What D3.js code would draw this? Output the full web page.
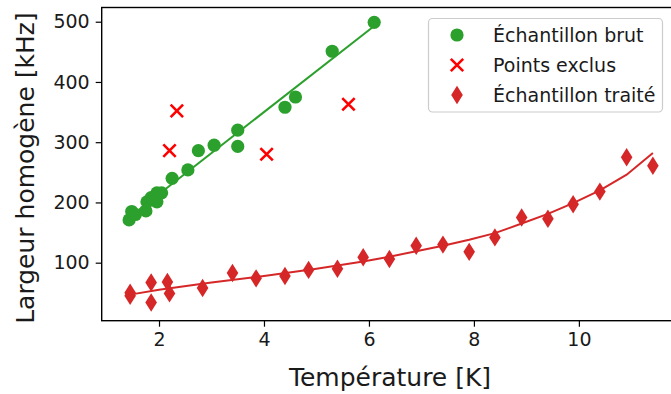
<!DOCTYPE html>
<html>
<head>
<meta charset="utf-8">
<script src="https://cdn.jsdelivr.net/npm/d3@7"></script>
<style>
  html, body { margin: 0; padding: 0; background: #fff; }
  svg { display: block; font-family: "DejaVu Sans", sans-serif; }
</style>
</head>
<body>
<svg id="chart" width="671" height="394"></svg>
<script>
// ---- data ----
const rawT = [1.43, 1.48, 1.55, 1.75, 1.77, 1.85, 1.96, 1.96, 2.05, 2.25, 2.55, 2.75, 3.05, 3.50, 3.50, 4.40, 4.60, 5.30, 6.10];
const rawW = [171, 185, 180, 186, 201, 208, 201, 216, 216, 240, 254, 286, 295, 320, 293, 358, 375, 451, 499];

const exclT = [2.20, 2.34, 4.05, 5.61];
const exclW = [286, 352, 280, 363];

const treatT = [1.45, 1.45, 1.85, 1.85, 2.16, 2.20, 2.83, 3.40, 3.85, 4.40, 4.85, 5.40, 5.89, 6.39, 6.90, 7.41, 7.91, 8.40, 8.91, 9.41, 9.89, 10.40, 10.91, 11.41];
const treatW = [45, 50, 67, 34, 68, 49, 58, 83, 74, 78, 88, 90, 109, 106, 128, 130, 118, 142, 175, 173, 197, 218, 275, 261];

const fitRawT = [1.43, 6.10];
const fitRawW = [175, 493];

const fitTreatT = [1.45, 2.0, 3.0, 4.0, 5.0, 5.89, 6.39, 6.90, 7.41, 7.91, 8.40, 8.91, 9.41, 9.89, 10.40, 10.91, 11.41];
const fitTreatW = [47, 55, 67, 78, 90, 102, 110, 119, 128, 138, 149, 165, 181, 199, 220, 246, 282];

const xTicks = [2, 4, 6, 8, 10];
const yTicks = [100, 200, 300, 400, 500];

const legendLabels = ["Échantillon brut", "Points exclus", "Échantillon traité"];

// ---- layout ----
const svg = d3.select("#chart");
const pLeft = 101.7, pRight = 678.6, pTop = 7.5, pBottom = 320.7;

const x = d3.scaleLinear().domain([0.908, 11.9]).range([pLeft, pRight]);
const y = d3.scaleLinear().domain([3.7, 523.6]).range([pBottom, pTop]);

const green = "#2ca02c", darkRed = "#d62728", brightRed = "#ff0000";

const plot = svg.append("g");

// fit lines
const line = d3.line().x(d => x(d[0])).y(d => y(d[1]));
plot.append("path")
  .attr("d", line(d3.zip(fitRawT, fitRawW)))
  .attr("fill", "none").attr("stroke", green).attr("stroke-width", 2);

// scatter: raw
plot.append("g").selectAll("circle")
  .data(d3.zip(rawT, rawW))
  .join("circle")
  .attr("cx", d => x(d[0])).attr("cy", d => y(d[1]))
  .attr("r", 6.6).attr("fill", green);

// excluded points (x markers)
const xs = 6.2;
plot.append("g").selectAll("path")
  .data(d3.zip(exclT, exclW))
  .join("path")
  .attr("d", d => {
    const cx = x(d[0]), cy = y(d[1]);
    return `M${cx - xs},${cy - xs}L${cx + xs},${cy + xs}M${cx - xs},${cy + xs}L${cx + xs},${cy - xs}`;
  })
  .attr("stroke", brightRed).attr("stroke-width", 2.6).attr("fill", "none");

// treated (thin diamonds)
const dw = 5.8, dh = 9.2;
plot.append("g").selectAll("path")
  .data(d3.zip(treatT, treatW))
  .join("path")
  .attr("d", d => {
    const cx = x(d[0]), cy = y(d[1]);
    return `M${cx},${cy - dh}L${cx + dw},${cy}L${cx},${cy + dh}L${cx - dw},${cy}Z`;
  })
  .attr("fill", darkRed);

plot.append("path")
  .attr("d", line(d3.zip(fitTreatT, fitTreatW)))
  .attr("fill", "none").attr("stroke", darkRed).attr("stroke-width", 2);

// ---- axes ----
const xAxis = svg.append("g").attr("transform", `translate(0,${pBottom})`)
  .call(d3.axisBottom(x).tickValues(xTicks).tickFormat(d3.format("d")).tickSize(6).tickPadding(6));
const yAxis = svg.append("g").attr("transform", `translate(${pLeft},0)`)
  .call(d3.axisLeft(y).tickValues(yTicks).tickFormat(d3.format("d")).tickSize(6).tickPadding(6));

[xAxis, yAxis].forEach(a => {
  a.select(".domain").remove();
  a.selectAll(".tick line").attr("stroke", "#000").attr("stroke-width", 1.2);
  a.selectAll(".tick text").attr("fill", "#1a1a1a")
    .style("font-family", "'DejaVu Sans', sans-serif").style("font-size", "19px");
});

// frame
svg.append("rect")
  .attr("x", pLeft).attr("y", pTop)
  .attr("width", pRight - pLeft).attr("height", pBottom - pTop)
  .attr("fill", "none").attr("stroke", "#000").attr("stroke-width", 1.4);

// axis labels
svg.append("text")
  .attr("x", 390).attr("y", 386)
  .attr("text-anchor", "middle")
  .style("font-size", "25px").attr("fill", "#1a1a1a")
  .text("Température [K]");

svg.append("text")
  .attr("transform", `translate(34,${(pTop + pBottom) / 2 + 4}) rotate(-90)`)
  .attr("text-anchor", "middle")
  .style("font-size", "25px").attr("fill", "#1a1a1a")
  .text("Largeur homogène [kHz]");

// ---- legend ----
const lg = svg.append("g");
lg.append("rect")
  .attr("x", 428.5).attr("y", 18.5).attr("width", 234).attr("height", 93.5)
  .attr("rx", 4).attr("fill", "#fff").attr("fill-opacity", 0.8)
  .attr("stroke", "#cccccc").attr("stroke-width", 1.2);

const rowsY = [35, 65, 95];
const mx = 457;
lg.append("circle").attr("cx", mx).attr("cy", rowsY[0]).attr("r", 6.6).attr("fill", green);
lg.append("path")
  .attr("d", `M${mx - xs},${rowsY[1] - xs}L${mx + xs},${rowsY[1] + xs}M${mx - xs},${rowsY[1] + xs}L${mx + xs},${rowsY[1] - xs}`)
  .attr("stroke", brightRed).attr("stroke-width", 2.6);
lg.append("path")
  .attr("d", `M${mx},${rowsY[2] - dh}L${mx + dw},${rowsY[2]}L${mx},${rowsY[2] + dh}L${mx - dw},${rowsY[2]}Z`)
  .attr("fill", darkRed);

lg.selectAll("text.lab").data(legendLabels).join("text")
  .attr("class", "lab")
  .attr("x", 493).attr("y", (d, i) => rowsY[i] + 7)
  .style("font-size", "19px").attr("fill", "#1a1a1a")
  .text(d => d);
</script>
</body>
</html>
